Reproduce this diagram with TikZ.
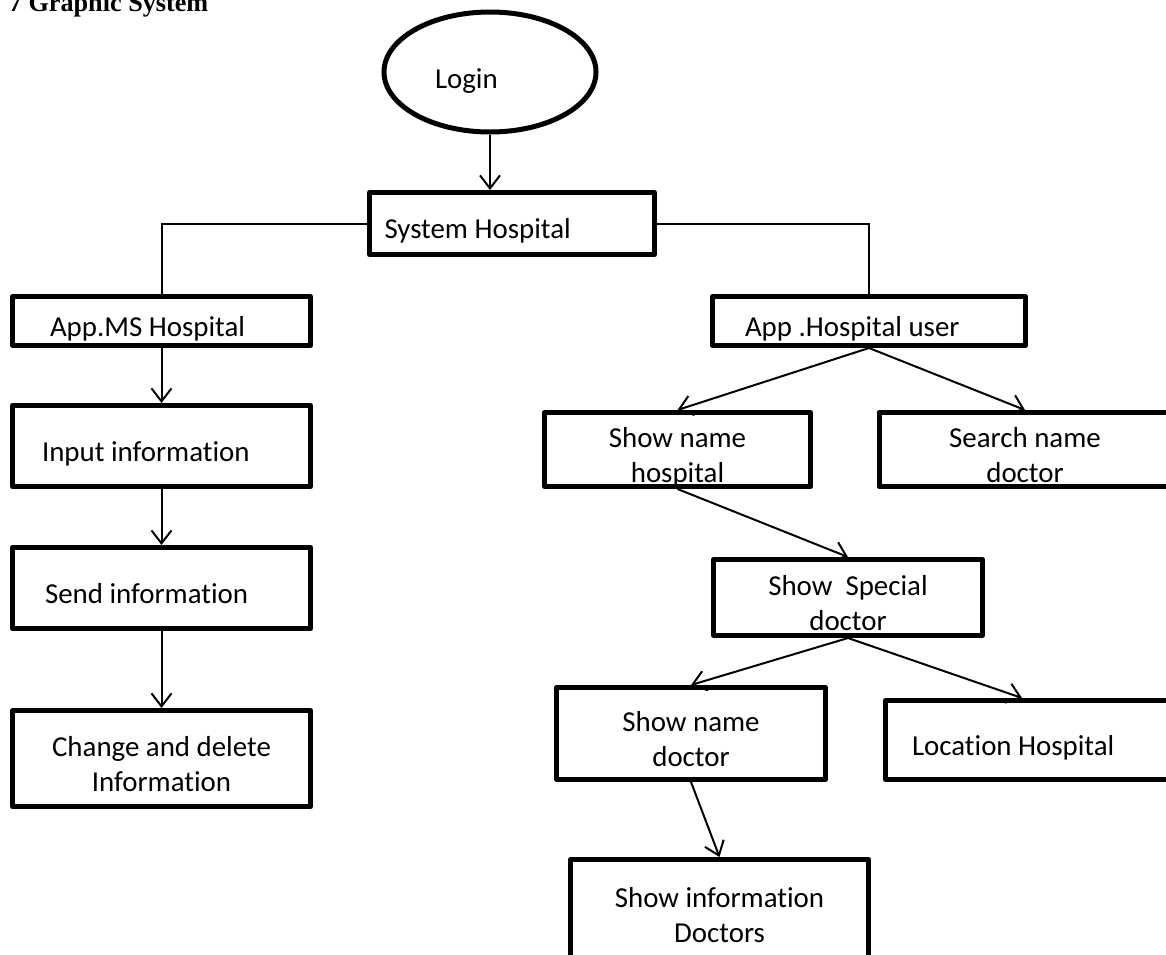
\documentclass[tikz,border=0pt]{standalone}
\usepackage{fontspec}
\setmainfont{Carlito}[Ligatures=NoCommon]
\newfontfamily\titlefont{Liberation Serif}
\usetikzlibrary{positioning,arrows.meta,shapes}

\begin{document}
\begin{tikzpicture}[
        x=1pt, y=-1pt,
        font=\fontsize{28.9}{35}\selectfont,
        block/.style = {rectangle, draw, line width=5pt, line join=round, align=flush center, inner sep=0pt, text height=30pt, text depth=0pt},
        block2/.style = {block, text height=65pt, text depth=0pt},
        lblock/.style = {block, align=flush left},
        oval/.style = {ellipse, draw, line width=5pt},
        line/.style = {draw, line width=2pt},
        arrow/.style = {line, -{Straight Barb[length=13pt,width=20pt]}}
    ]
    \useasboundingbox (0,0) rectangle (1166,954);

    \node [anchor=base west, font=\titlefont\bfseries\fontsize{26.2}{30}\selectfont] (title) at (25,11) {\llap{7 }Graphic System};

    \node [oval, minimum width=212pt, minimum height=120pt, text width=110pt, align=flush left, text height=32pt, text depth=0pt] (login) at (490,72) {Login};
    \node [lblock, minimum width=285pt, minimum height=62pt, text width=255pt, inner xsep=15pt] (sys) at (512,223.5) {System Hospital};

    % left branch
    \node [lblock, minimum width=298pt, minimum height=49pt, text width=223pt, inner xsep=37.5pt] (appms) at (161.5,321) {App.MS Hospital};
    \node [lblock, minimum width=298pt, minimum height=81pt, text width=239pt, inner xsep=29.5pt, below of=appms, node distance=125pt] (input) {Input information};
    \node [lblock, minimum width=298pt, minimum height=81pt, text width=233pt, inner xsep=32.5pt, below of=input, node distance=142pt] (send) {Send information};
    \node [block2, minimum width=298pt, minimum height=96pt, below of=send, node distance=170.5pt] (change) {Change and delete\\Information};

    % right branch
    \node [lblock, minimum width=313pt, minimum height=49pt, text width=248pt, inner xsep=32.5pt, right of=appms, node distance=707.5pt] (appuser) {App .Hospital user};
    \node [block2, minimum width=266pt, minimum height=74pt, below of=appuser, node distance=128.5pt, xshift=-191.5pt] (showhosp) {Show name\\hospital};
    \node [block2, minimum width=292pt, minimum height=74pt, below of=appuser, node distance=128.5pt, xshift=156pt] (search) {Search name\\doctor};
    \node [block2, minimum width=269pt, minimum height=76pt, below of=showhosp, node distance=148pt, xshift=170.5pt] (special) {Show~~Special\\doctor};
    \node [block2, minimum width=269pt, minimum height=92pt, below of=special, node distance=136pt, xshift=-157pt] (namedoc) {Show name\\doctor};
    \node [lblock, minimum width=347pt, minimum height=79pt, text width=294pt, inner xsep=26.5pt, below of=special, node distance=142.5pt, xshift=211pt] (location) {Location Hospital};
    \node [block2, minimum width=298pt, minimum height=100pt, below of=namedoc, node distance=176pt, xshift=28.5pt] (info) {Show information\\Doctors};

    \draw [arrow] (login.south) -- (login.south |- sys.north);
    \draw [line] (sys.west) -| (appms.north);
    \draw [line] (sys.east) -| (appuser.north);
    \draw [arrow] (appms) -- (input);
    \draw [arrow] (input) -- (send);
    \draw [arrow] (send) -- (change);
    \draw [arrow] (appuser.south) -- (showhosp.north);
    \draw [arrow] (appuser.south) -- (search.north);
    \draw [arrow] (showhosp.south) -- (special.north);
    \draw [arrow] (special.south) -- (namedoc.north);
    \draw [arrow] (special.south) -- ([xshift=-37pt]location.north);
    \draw [arrow] (namedoc.south) -- (info.north);

\end{tikzpicture}
\end{document}
